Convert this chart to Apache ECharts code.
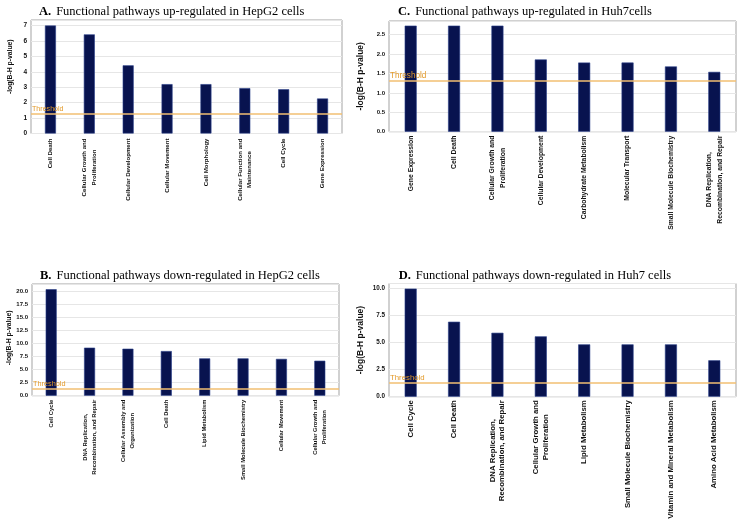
<!DOCTYPE html>
<html><head><meta charset="utf-8">
<script src="https://cdn.jsdelivr.net/npm/echarts@6/dist/echarts.min.js"></script>
<style>html,body{margin:0;padding:0;background:#fff}#c{width:744px;height:523px}</style>
</head><body><div id="c"></div>
<script>
const titles = [
  ['A.', 'Functional pathways up-regulated in HepG2 cells'],
  ['B.', 'Functional pathways down-regulated in HepG2 cells'],
  ['C.', 'Functional pathways up-regulated in Huh7cells'],
  ['D.', 'Functional pathways down-regulated in Huh7 cells']
];
const yName = '-log(B-H p-value)';
const thresholdLabel = 'Threshold';

const catA = ['Cell Death', 'Cellular Growth and\nProliferation', 'Cellular Development', 'Cellular Movement', 'Cell Morphology', 'Cellular Function and\nMaintenance', 'Cell Cycle', 'Gene Expression'];
const valA = [7.0, 6.43, 4.42, 3.2, 3.2, 2.94, 2.87, 2.27];

const catB = ['Cell Cycle', 'DNA Replication,\nRecombination, and Repair', 'Cellular Assembly and\nOrganization', 'Cell Death', 'Lipid Metabolism', 'Small Molecule Biochemistry', 'Cellular Movement', 'Cellular Growth and\nProliferation'];
const valB = [20.4, 9.2, 9.0, 8.55, 7.15, 7.15, 7.05, 6.7];

const catC = ['Gene Expression', 'Cell Death', 'Cellular Growth and\nProliferation', 'Cellular Development', 'Carbohydrate Metabolism', 'Molecular Transport', 'Small Molecule Biochemistry', 'DNA Replication,\nRecombination, and Repair'];
const valC = [2.73, 2.73, 2.73, 1.86, 1.78, 1.78, 1.68, 1.54];

const catD = ['Cell Cycle', 'Cell Death', 'DNA Replication,\nRecombination, and Repair', 'Cellular Growth and\nProliferation', 'Lipid Metabolism', 'Small Molecule Biochemistry', 'Vitamin and Mineral Metabolism', 'Amino Acid Metabolism'];
const valD = [9.98, 6.92, 5.9, 5.57, 4.83, 4.83, 4.83, 3.36];

const thresholds = [1.3, 1.3, 1.3, 1.3];

const panels = [
  {cat: catA, val: valA, th: thresholds[0], grid: {left: 31, right: 402, top: 20, bottom: 389.5}, max: 7.36, interval: 1, dec: 0, xfs: 6.1, xlh: 9.3, xmargin: 5, yfs: 6.5, nameFs: 6.8, nameGap: 17, namePad: [0, 0, 0, 20], barW: 11, thFs: 7.1, title: {left: 39, top: 3}},
  {cat: catB, val: valB, th: thresholds[1], grid: {left: 32, right: 405, top: 284, bottom: 127.3}, max: 21.4, interval: 2.5, dec: 1, xfs: 5.8, xlh: 9, xmargin: 4, yfs: 6, nameFs: 6.8, nameGap: 19, namePad: [0, 0, 0, 4], barW: 11, thFs: 7.3, title: {left: 40, top: 267}},
  {cat: catC, val: valC, th: thresholds[2], grid: {left: 389, right: 8, top: 21, bottom: 391.3}, max: 2.85, interval: 0.5, dec: 1, xfs: 6.8, xlh: 10.7, xmargin: 4, yfs: 6, nameFs: 8.5, nameGap: 24, namePad: [0, 0, 0, 0], barW: 12, thFs: 8.2, title: {left: 398, top: 3}},
  {cat: catD, val: valD, th: thresholds[3], grid: {left: 389, right: 8, top: 283.5, bottom: 126.3}, max: 10.45, interval: 2.5, dec: 1, xfs: 7.8, xlh: 9.8, xmargin: 3.5, yfs: 6.3, nameFs: 8.5, nameGap: 24, namePad: [0, 0, 0, 0], barW: 12, thFs: 7.8, title: {left: 398.7, top: 267}}
];

const font = 'Liberation Sans';
const option = {
  backgroundColor: '#ffffff',
  animation: false,
  title: panels.map((p, i) => ({
    left: p.title.left, top: p.title.top, padding: 0,
    text: '{b|' + titles[i][0] + '} {n|' + titles[i][1] + '}',
    textStyle: {
      rich: {
        b: {fontFamily: 'Liberation Serif', fontSize: 12.5, fontWeight: 'bold', color: '#000'},
        n: {fontFamily: 'Liberation Serif', fontSize: 12.5, fontWeight: 'normal', color: '#000'}
      }
    }
  })),
  grid: panels.map(p => Object.assign({show: true, borderColor: '#a3a3a3', borderWidth: 1, backgroundColor: '#fff'}, p.grid)),
  xAxis: panels.map((p, i) => ({
    type: 'category', gridIndex: i, data: p.cat,
    axisLine: {show: false}, axisTick: {show: false},
    axisLabel: {
      interval: 0, rotate: 90, margin: p.xmargin, color: '#111',
      fontFamily: font, fontSize: p.xfs, fontWeight: 'bold', lineHeight: p.xlh,
      formatter: v => v.split('\n').map(s => '{c|' + s + '}').join('\n'),
      rich: {c: {align: 'center', fontFamily: font, fontSize: p.xfs, fontWeight: 'bold', lineHeight: p.xlh, color: '#111'}}
    }
  })),
  yAxis: panels.map((p, i) => ({
    type: 'value', gridIndex: i, min: 0, max: p.max, interval: p.interval,
    name: yName, nameLocation: 'middle', nameRotate: 90, nameGap: p.nameGap,
    nameTextStyle: {fontFamily: font, fontSize: p.nameFs, fontWeight: 'bold', color: '#111', padding: p.namePad},
    axisLine: {show: false}, axisTick: {show: false},
    axisLabel: {
      showMaxLabel: false, margin: 4, color: '#111', fontFamily: font, fontSize: p.yfs, fontWeight: 'bold',
      formatter: v => v.toFixed(p.dec)
    },
    splitLine: {show: true, lineStyle: {color: '#e6e6e6', width: 1}}
  })),
  series: panels.map((p, i) => ({
    type: 'bar', xAxisIndex: i, yAxisIndex: i, data: p.val, barWidth: p.barW,
    itemStyle: {color: '#08134f', borderColor: '#2a3f8a', borderWidth: 0.6},
    markLine: {
      silent: true, symbol: 'none', animation: false,
      data: [{yAxis: p.th}],
      lineStyle: {color: '#f2bf72', width: 1.6, type: 'solid'},
      label: {show: true, position: 'insideStartTop', formatter: thresholdLabel, color: '#e39a2a', fontFamily: font, fontSize: p.thFs, distance: [1, 1]}
    }
  }))
};
const chart = echarts.init(document.getElementById('c'), null, {renderer: 'canvas'});
chart.setOption(option);
</script>
</body></html>
